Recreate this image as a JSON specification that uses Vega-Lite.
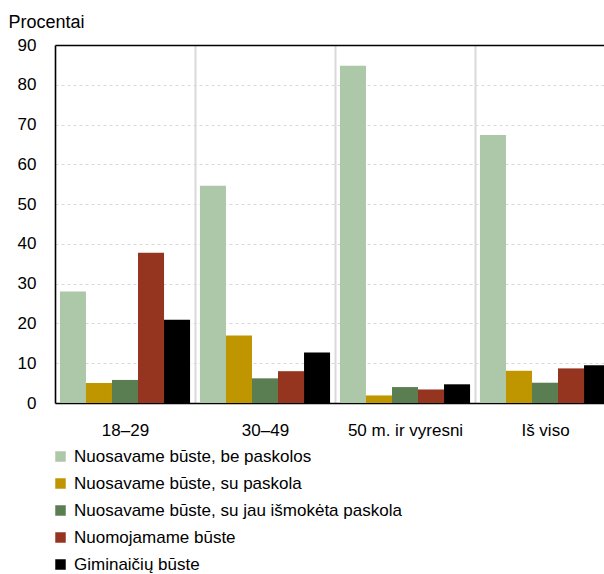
{
  "$schema": "https://vega.github.io/schema/vega-lite/v6.json",
  "width": 549,
  "height": 358,
  "autosize": {"type": "none"},
  "padding": {"left": 55, "top": 45, "right": 0, "bottom": 171},
  "background": "white",
  "config": {
    "font": "Liberation Sans",
    "view": {"stroke": null},
    "axis": {"labelFont": "Liberation Sans", "titleFont": "Liberation Sans"},
    "legend": {"labelFont": "Liberation Sans"}
  },
  "data": {
    "values": [
      {"grupe": "18–29", "tipas": "Nuosavame būste, be paskolos", "v": 28.0},
      {"grupe": "18–29", "tipas": "Nuosavame būste, su paskola", "v": 5.0},
      {"grupe": "18–29", "tipas": "Nuosavame būste, su jau išmokėta paskola", "v": 5.8},
      {"grupe": "18–29", "tipas": "Nuomojamame būste", "v": 37.8},
      {"grupe": "18–29", "tipas": "Giminaičių būste", "v": 20.9},
      {"grupe": "30–49", "tipas": "Nuosavame būste, be paskolos", "v": 54.6},
      {"grupe": "30–49", "tipas": "Nuosavame būste, su paskola", "v": 17.0},
      {"grupe": "30–49", "tipas": "Nuosavame būste, su jau išmokėta paskola", "v": 6.2},
      {"grupe": "30–49", "tipas": "Nuomojamame būste", "v": 8.0},
      {"grupe": "30–49", "tipas": "Giminaičių būste", "v": 12.7},
      {"grupe": "50 m. ir vyresni", "tipas": "Nuosavame būste, be paskolos", "v": 84.8},
      {"grupe": "50 m. ir vyresni", "tipas": "Nuosavame būste, su paskola", "v": 1.9},
      {"grupe": "50 m. ir vyresni", "tipas": "Nuosavame būste, su jau išmokėta paskola", "v": 4.0},
      {"grupe": "50 m. ir vyresni", "tipas": "Nuomojamame būste", "v": 3.4},
      {"grupe": "50 m. ir vyresni", "tipas": "Giminaičių būste", "v": 4.7},
      {"grupe": "Iš viso", "tipas": "Nuosavame būste, be paskolos", "v": 67.4},
      {"grupe": "Iš viso", "tipas": "Nuosavame būste, su paskola", "v": 8.1},
      {"grupe": "Iš viso", "tipas": "Nuosavame būste, su jau išmokėta paskola", "v": 5.1},
      {"grupe": "Iš viso", "tipas": "Nuomojamame būste", "v": 8.7},
      {"grupe": "Iš viso", "tipas": "Giminaičių būste", "v": 9.5}
    ]
  },
  "mark": {"type": "bar"},
  "encoding": {
    "x": {
      "field": "grupe",
      "type": "nominal",
      "sort": null,
      "scale": {"range": [0, 560], "paddingInner": 0, "paddingOuter": 0},
      "axis": {
        "title": null,
        "labelAngle": 0,
        "labelFontSize": 17,
        "labelColor": "black",
        "labelPadding": 19,
        "ticks": false,
        "tickBand": "extent",
        "grid": true,
        "gridColor": "#d9d9d9",
        "gridWidth": 2,
        "domainColor": "black",
        "domainWidth": 1.5,
        "zindex": 0
      }
    },
    "xOffset": {
      "field": "tipas",
      "type": "nominal",
      "sort": null,
      "scale": {"paddingInner": 0, "paddingOuter": 0.19}
    },
    "y": {
      "field": "v",
      "type": "quantitative",
      "scale": {"domain": [0, 90], "nice": false},
      "axis": {
        "title": "Procentai",
        "titleAngle": 0,
        "titleAlign": "left",
        "titleBaseline": "alphabetic",
        "titleX": -47,
        "titleY": -18,
        "titleFontSize": 18,
        "titleFontWeight": "normal",
        "titleColor": "black",
        "values": [0, 10, 20, 30, 40, 50, 60, 70, 80, 90],
        "labelFontSize": 17,
        "labelColor": "black",
        "labelPadding": 19,
        "ticks": false,
        "domainColor": "black",
        "domainWidth": 1.5,
        "gridColor": {"condition": {"test": "datum.value === 90", "value": "black"}, "value": "#d9d9d9"},
        "gridDash": {"condition": {"test": "datum.value === 90", "value": []}, "value": [3, 3]},
        "gridWidth": {"condition": {"test": "datum.value === 90", "value": 1.5}, "value": 1},
        "zindex": 0
      }
    },
    "color": {
      "field": "tipas",
      "type": "nominal",
      "sort": null,
      "scale": {
        "domain": ["Nuosavame būste, be paskolos", "Nuosavame būste, su paskola", "Nuosavame būste, su jau išmokėta paskola", "Nuomojamame būste", "Giminaičių būste"],
        "range": ["#adc8a8", "#c09600", "#5a7d52", "#953520", "#000000"]
      },
      "legend": {
        "title": null,
        "orient": "none",
        "legendX": -3,
        "legendY": 403,
        "direction": "vertical",
        "symbolType": "square",
        "symbolSize": 110,
        "symbolStrokeWidth": 0,
        "labelFontSize": 17,
        "labelColor": "black",
        "labelOffset": 5,
        "rowPadding": 9,
        "labelLimit": 500
      }
    }
  }
}
